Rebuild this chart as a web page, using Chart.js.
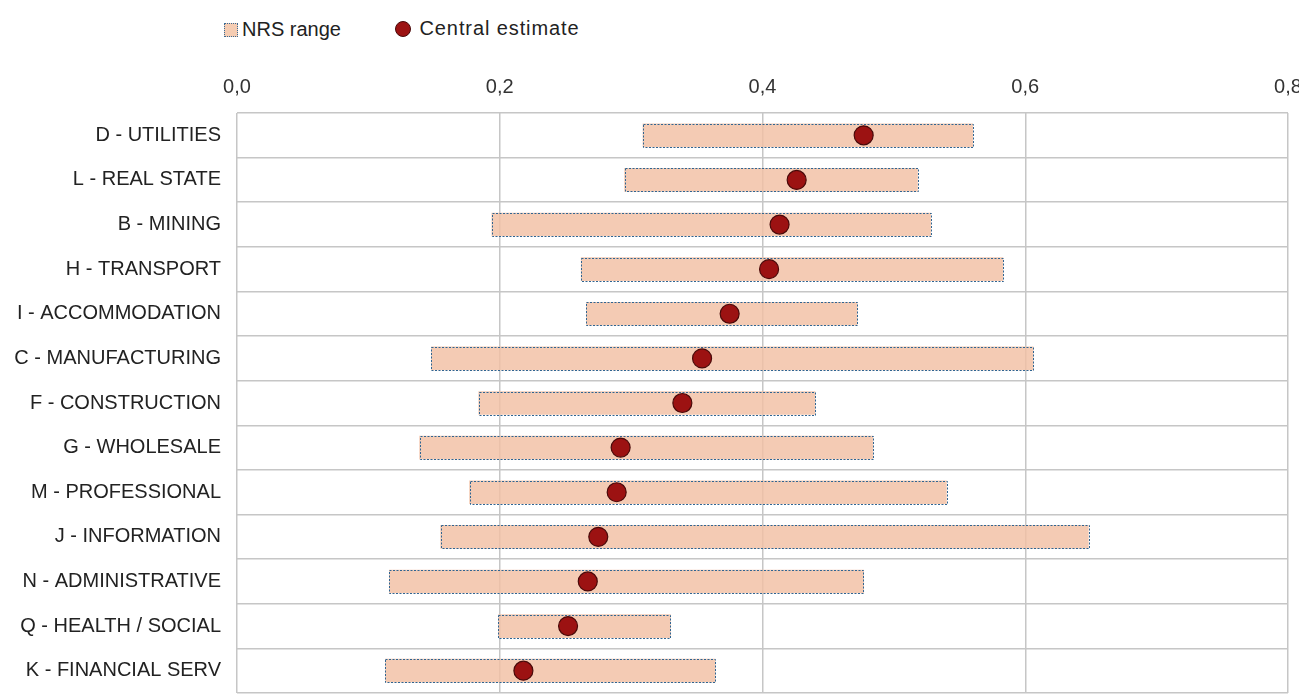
<!DOCTYPE html>
<html>
<head>
<meta charset="utf-8">
<script src="https://cdn.jsdelivr.net/npm/chart.js@4.4.1/dist/chart.umd.min.js"></script>
<style>
  html, body { margin: 0; padding: 0; background: #fff; overflow: hidden; }
  #legend { position: absolute; left: 224px; top: 17px; font-family: "Liberation Sans", Arial, sans-serif; font-size: 20px; color: #222; white-space: nowrap; }
  #legend span.item { display: inline-flex; align-items: center; margin-right: 48px; }
  #legend .box { width: 14px; height: 14px; background: #f5ccb2; border: 1px dotted #3a6a94; margin-right: 4px; box-sizing: border-box; }
  #legend .dot { width: 16px; height: 16px; border-radius: 50%; background: #9c1212; border: 1px solid #4a0a0a; margin-right: 9px; box-sizing: border-box; }
  #legend .wide { letter-spacing: 0.9px; }
  #wrap { position: absolute; left: 0; top: 0; width: 1320px; height: 721px; }
</style>
</head>
<body>
<div id="legend">
  <span class="item"><span class="box"></span>NRS range</span>
  <span class="item"><span class="dot"></span><span class="wide">Central estimate</span></span>
</div>
<div id="wrap"><canvas id="myCanvas"></canvas></div>
<script>
var sectors = ["D - UTILITIES", "L - REAL STATE", "B - MINING", "H - TRANSPORT", "I - ACCOMMODATION",
	"C - MANUFACTURING", "F - CONSTRUCTION", "G - WHOLESALE", "M - PROFESSIONAL", "J - INFORMATION",
	"N - ADMINISTRATIVE", "Q - HEALTH / SOCIAL", "K - FINANCIAL SERV"];
var rangeLow  = [0.309, 0.295, 0.194, 0.262, 0.266, 0.148, 0.184, 0.139, 0.177, 0.155, 0.116, 0.199, 0.113];
var rangeHigh = [0.560, 0.518, 0.528, 0.583, 0.472, 0.606, 0.440, 0.484, 0.540, 0.648, 0.477, 0.330, 0.364];
var central   = [0.477, 0.426, 0.413, 0.405, 0.375, 0.354, 0.339, 0.292, 0.289, 0.275, 0.267, 0.252, 0.218];

var ranges = [];
var points = [];
for (var i in sectors) {
	ranges.push([rangeLow[i], rangeHigh[i]]);
	points.push({x: central[i], y: sectors[i]});
}

// dotted outline round the range bars
var dottedBorder = {
	id: "dottedBorder",
	afterDatasetDraw: function(chart, args) {
		if (args.index !== 0) return;
		var ctx = chart.ctx;
		ctx.save();
		ctx.strokeStyle = "#2f6592";
		ctx.lineWidth = 1;
		ctx.setLineDash([2, 1.5]);
		args.meta.data.forEach(function(bar) {
			var x1 = Math.min(bar.x, bar.base), x2 = Math.max(bar.x, bar.base);
			ctx.strokeRect(Math.round(x1) + 0.5, Math.round(bar.y - bar.height / 2) + 0.5, Math.round(x2 - x1), Math.round(bar.height));
		});
		ctx.restore();
	}
};

var ctx = document.getElementById("myCanvas");
var chart = new Chart(ctx, {
	type: "bar",
	data: {
		labels: sectors,
		datasets: [
			{
				label: "NRS range",
				data: ranges,
				backgroundColor: "rgba(242,192,164,0.82)",
				borderWidth: 0,
				barThickness: 23,
				order: 2
			},
			{
				type: "line",
				label: "Central estimate",
				data: points,
				showLine: false,
				pointRadius: 9.5,
				pointHoverRadius: 9.5,
				pointBackgroundColor: "#9c1212",
				pointBorderColor: "#4a0a0a",
				pointBorderWidth: 1.2,
				order: 1
			}
		]
	},
	options: {
		indexAxis: "y",
		responsive: true,
		maintainAspectRatio: false,
		animation: false,
		layout: { padding: { top: 61, right: 32, bottom: 5, left: 0 } },
		plugins: { legend: { display: false }, tooltip: { enabled: false } },
		scales: {
			x: {
				position: "top",
				min: 0, max: 0.8,
				ticks: {
					stepSize: 0.2,
					color: "#333",
					font: { family: "Liberation Sans", size: 20 },
					padding: 14,
					callback: function(v) { return v.toFixed(1).replace(".", ","); }
				},
				grid: { color: "#c6c6c6", lineWidth: 1.5, drawTicks: false },
				border: { display: false }
			},
			y: {
				ticks: {
					color: "#222",
					font: { family: "Liberation Sans", size: 20 },
					padding: 16
				},
				grid: { color: "#c6c6c6", lineWidth: 1.5, drawTicks: false, offset: true },
				border: { display: false },
				afterFit: function(scale) { scale.width = 237; }
			}
		}
	},
	plugins: [dottedBorder]
});
</script>
</body>
</html>
